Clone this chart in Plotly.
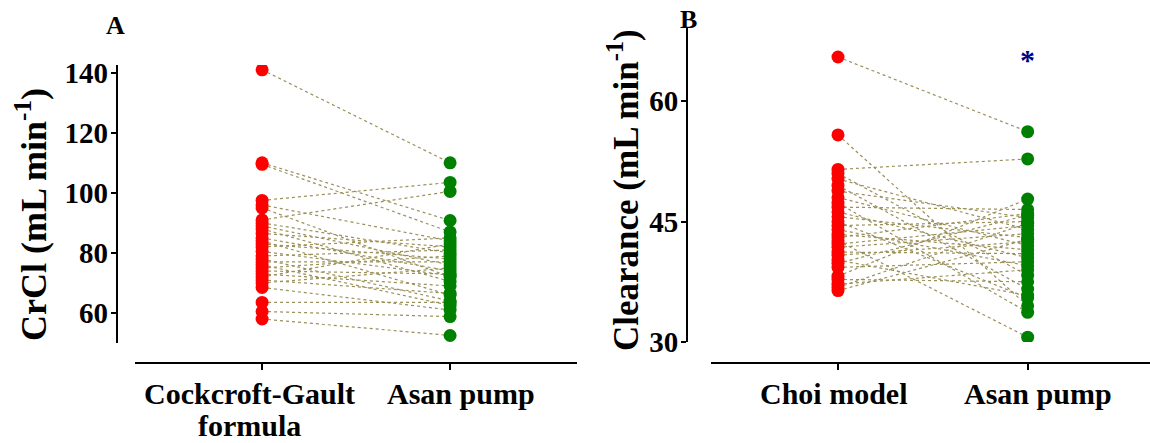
import plotly.graph_objects as go

# Panel A: creatinine clearance, paired per patient
cg_formula = [141, 110, 109.5, 97.5, 96, 95, 91, 90, 89, 88, 86.5, 85, 84, 83, 82,
              80.5, 79, 78, 77, 76, 75, 74, 73, 72, 71, 70, 68.5, 63.5, 60.5, 58]
asan_a = [110, 90.8, 87, 103.5, 84, 72, 100.5, 80, 76, 70.5, 82, 74, 66, 78, 85,
          72.5, 81, 64, 77, 62.5, 79, 73, 69, 83, 66.5, 75, 61, 63.5, 58.8, 52.5]

# Panel B: clearance, Choi model vs Asan pump
choi_model = [65.5, 55.8, 51.5, 51, 50.3, 49.5, 48.8, 48, 47.3, 46.8, 46.2, 45.6, 45, 44.5, 44,
              43.4, 43, 42.6, 42.2, 41.8, 41.2, 40.8, 39.8, 39.3, 38.2, 37.8, 37.2, 36.8, 36.4, 40.2]
asan_b = [56.2, 34.5, 52.8, 38.3, 44, 36.6, 45.5, 42, 33.7, 46.5, 40.5, 43, 35.5, 45, 39.5,
          41.5, 46, 30.6, 44.5, 43.5, 41, 42.5, 45.8, 40, 47.8, 37.5, 39, 44.8, 42.8, 35.8]

# category labels, one list entry per text line
cat_a = [["Cockcroft-Gault", "formula"], ["Asan pump"]]
cat_b = [["Choi model"], ["Asan pump"]]
ticks_a = [60, 80, 100, 120, 140]
ticks_b = [30, 45, 60]

FONT = "Liberation Serif"
RED = "#FF0000"
GREEN = "#008000"
LINK = "#9A905A"
W, H = 1150, 443


def px_x(p):
    return p / W


def px_y(p):
    return 1 - p / H


def paired(left, right):
    xs, ys = [], []
    for a, b in zip(left, right):
        xs += [0, 1, None]
        ys += [a, b, None]
    return xs, ys


fig = go.Figure()
for left, right, xa, ya in [(cg_formula, asan_a, "x", "y"), (choi_model, asan_b, "x2", "y2")]:
    lx, ly = paired(left, right)
    fig.add_trace(go.Scatter(x=lx, y=ly, mode="lines", xaxis=xa, yaxis=ya,
                             line=dict(color=LINK, width=1.2, dash="dot"),
                             hoverinfo="skip", showlegend=False))
    fig.add_trace(go.Scatter(x=[0] * len(left), y=left, mode="markers", xaxis=xa, yaxis=ya,
                             marker=dict(color=RED, size=13), showlegend=False))
    fig.add_trace(go.Scatter(x=[1] * len(right), y=right, mode="markers", xaxis=xa, yaxis=ya,
                             marker=dict(color=GREEN, size=13), showlegend=False))

common_x = dict(showline=True, linecolor="black", linewidth=2, ticks="outside", ticklen=6,
                tickwidth=2, tickcolor="black", showgrid=False, zeroline=False, anchor="free",
                position=px_y(362.7), tickvals=[0, 1], showticklabels=False, automargin=False)
common_y = dict(showline=True, linecolor="black", linewidth=2, ticks="outside", ticklen=5,
                tickwidth=2, tickcolor="black", showgrid=False, zeroline=False, anchor="free",
                automargin=False, ticklabelstandoff=-3,
                tickfont=dict(family=FONT, size=29, color="black", weight="bold"))

fig.update_layout(
    template="none",
    width=W, height=H, margin=dict(l=0, r=0, t=0, b=0, autoexpand=False),
    paper_bgcolor="white", plot_bgcolor="white",
    font=dict(family=FONT, color="black"),
    xaxis=dict(common_x, domain=[px_x(135), px_x(577)], range=[-0.676, 1.675]),
    yaxis=dict(common_y, domain=[px_y(343), px_y(65)], range=[50, 142.6],
               position=px_x(116.7), tickvals=ticks_a),
    xaxis2=dict(common_x, domain=[px_x(711), 1.0], range=[-0.6695, 1.645]),
    yaxis2=dict(common_y, domain=[px_y(342), px_y(27.3)], range=[30, 69.2],
                position=px_x(687), tickvals=ticks_b),
)


def note(x, y, text, font, xref="paper", yref="paper", angle=0):
    fig.add_annotation(x=x, y=y, xref=xref, yref=yref, text=text, font=font,
                       showarrow=False, textangle=angle, xanchor="center", yanchor="middle")


# category labels under each x axis
cat_font = dict(family=FONT, size=30, color="black", weight="bold")
label_dx = {("x", 0): -13, ("x", 1): 11, ("x2", 0): -4, ("x2", 1): 10}
for xa, cats in [("x", cat_a), ("x2", cat_b)]:
    for i, lines in enumerate(cats):
        for j, line in enumerate(lines):
            fig.add_annotation(x=i, y=px_y(393 + 32 * j), xref=xa, yref="paper", text=line,
                               font=cat_font, showarrow=False, xanchor="center",
                               yanchor="middle", xshift=label_dx[(xa, i)])

note(px_x(31), px_y(215), "CrCl (mL min<sup>-1</sup>)",
     dict(family=FONT, size=36, color="black", weight="bold"), angle=-90)
note(px_x(623), px_y(190), "Clearance (mL min<sup>-1</sup>)",
     dict(family=FONT, size=35, color="black", weight="bold"), angle=-90)

letter_font = dict(family=FONT, size=26, color="black", weight="bold")
note(px_x(115), px_y(25), "A", letter_font)
note(px_x(688), px_y(20), "B", letter_font)

# significance marker above the Asan pump column in panel B
note(1, 65.2, "*", dict(family=FONT, size=30, color="#00008B", weight="bold"),
     xref="x2", yref="y2")

fig.write_html("out.html")
